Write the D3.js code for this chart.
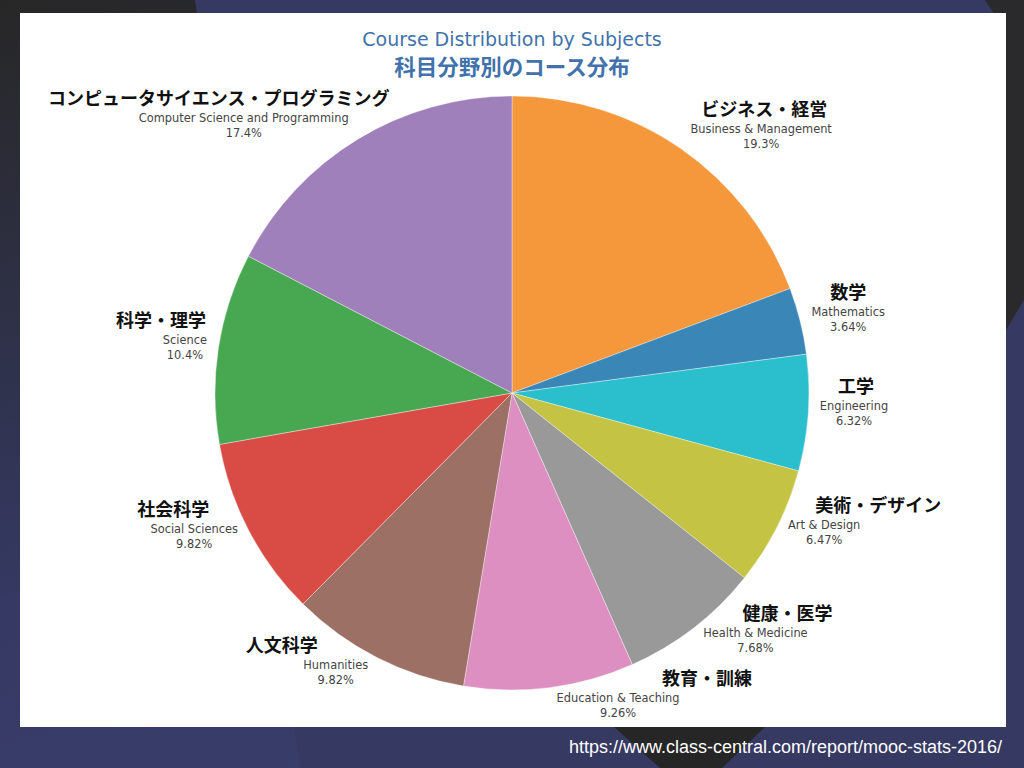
<!DOCTYPE html>
<html>
<head>
<meta charset="utf-8">
<script src="https://cdn.jsdelivr.net/npm/d3@7"></script>
<style>
  html, body { margin: 0; padding: 0; background: #353963; }
  svg { display: block; }
</style>
</head>
<body>
<div id="chart"></div>
<script>
// data (clockwise from 12 o'clock)
var subjectsJa = ["ビジネス・経営", "数学", "工学", "美術・デザイン", "健康・医学",
                  "教育・訓練", "人文科学", "社会科学", "科学・理学", "コンピュータサイエンス・プログラミング"];
var subjectsEn = ["Business & Management", "Mathematics", "Engineering", "Art & Design", "Health & Medicine",
                  "Education & Teaching", "Humanities", "Social Sciences", "Science", "Computer Science and Programming"];
var shares = [19.3, 3.64, 6.32, 6.47, 7.68, 9.26, 9.82, 9.82, 10.4, 17.4];
var colors = ["#f5973b", "#3a87b7", "#2bbfce", "#c4c344", "#999999",
              "#dd8fc2", "#9c7065", "#d84c45", "#48a852", "#a080bb"];

// horizontal nudge of the japanese line against the english one
var jaShift = [3, 0, 2, 54, 32, 89, -54, -21, -24, -25];

var width = 1024, height = 768;
var cx = 512, cy = 393, radius = 297;

var svg = d3.select("#chart")
  .append("svg")
    .attr("width", width)
    .attr("height", height);

// slide background
var defs = svg.append("defs");
var grad = defs.append("linearGradient")
    .attr("id", "bg")
    .attr("x1", 0).attr("y1", 0).attr("x2", 0.35).attr("y2", 1);
grad.append("stop").attr("offset", "0").attr("stop-color", "#272727");
grad.append("stop").attr("offset", "0.7").attr("stop-color", "#353963");
grad.append("stop").attr("offset", "1").attr("stop-color", "#393d6a");

svg.append("rect")
    .attr("width", width).attr("height", height)
    .attr("fill", "url(#bg)");
svg.append("polygon")
    .attr("points", "195,0 985,0 1024,60 1024,768 300,768")
    .attr("fill", "#363a62");
svg.append("polygon")
    .attr("points", "985,0 1024,0 1024,300 1006,330 1006,30")
    .attr("fill", "#2a2a2c");
svg.append("polygon")
    .attr("points", "614,727 765,727 722,768 660,768")
    .attr("fill", "#262626");

// white panel
svg.append("rect")
    .attr("x", 20).attr("y", 13)
    .attr("width", 986).attr("height", 714)
    .attr("fill", "#ffffff");

// titles
svg.append("text")
    .attr("x", 512).attr("y", 46)
    .attr("text-anchor", "middle")
    .style("font-family", "'DejaVu Sans', Verdana, sans-serif")
    .style("font-size", "19px")
    .style("fill", "#4172ab")
    .text("Course Distribution by Subjects");
svg.append("text")
    .attr("x", 512).attr("y", 75)
    .attr("text-anchor", "middle")
    .style("font-family", "'Noto Sans CJK JP', sans-serif")
    .style("font-weight", "bold")
    .style("font-size", "21.5px")
    .style("fill", "#4172ab")
    .text("科目分野別のコース分布");

// pie
var pie = d3.pie()
    .sort(null)
    .value(function(d) { return d; });
var arc = d3.arc()
    .innerRadius(0)
    .outerRadius(radius);

var arcs = pie(shares);

var g = svg.append("g")
    .attr("transform", "translate(" + cx + "," + cy + ")");

g.selectAll("path.slice")
  .data(arcs)
  .enter()
  .append("path")
    .attr("class", "slice")
    .attr("d", arc)
    .attr("fill", function(d, i) { return colors[i]; })
    .attr("stroke", "#ffffff")
    .attr("stroke-opacity", 0.6)
    .attr("stroke-width", 0.6);

// outside labels, placed like plotly does it
var fmt = d3.format(".3r");
var labelR = radius + 5;
var blockH = 26;

arcs.forEach(function(d, i) {
  var a = (d.startAngle + d.endAngle) / 2;
  var px = Math.sin(a) * labelR,
      py = -Math.cos(a) * labelR;

  var lab = g.append("g");

  var en = lab.append("text")
      .attr("x", 0).attr("y", -3)
      .attr("text-anchor", "middle")
      .style("font-family", "'DejaVu Sans', Verdana, sans-serif")
      .style("font-size", "11.4px")
      .style("fill", "#444")
      .text(subjectsEn[i]);
  var pc = lab.append("text")
      .attr("x", 0).attr("y", 12)
      .attr("text-anchor", "middle")
      .style("font-family", "'DejaVu Sans', Verdana, sans-serif")
      .style("font-size", "11.4px")
      .style("fill", "#444")
      .text(fmt(shares[i]) + "%");
  lab.append("text")
      .attr("x", jaShift[i]).attr("y", -20)
      .attr("text-anchor", "middle")
      .style("font-family", "'Noto Sans CJK JP', sans-serif")
      .style("font-weight", "bold")
      .style("font-size", "18px")
      .style("fill", "#111")
      .text(subjectsJa[i]);

  var w = Math.max(en.node().getComputedTextLength(), pc.node().getComputedTextLength());
  var dx = w / 2 * (px < 0 ? -1 : 1),
      dy = blockH / 2 * (py < 0 ? -1 : 1);
  var ox = dx + Math.abs(dy) * (dx > 0 ? 1 : -1) / 2,
      oy = dy / (1 + px * px / (py * py));

  lab.attr("transform", "translate(" + (px + ox) + "," + (py + oy) + ")");
});

// source
svg.append("text")
    .attr("x", 569).attr("y", 753)
    .attr("textLength", 433)
    .attr("lengthAdjust", "spacingAndGlyphs")
    .style("font-family", "'Liberation Sans', Arial, sans-serif")
    .style("font-size", "18px")
    .style("fill", "#ffffff")
    .text("https://www.class-central.com/report/mooc-stats-2016/");
</script>
</body>
</html>
